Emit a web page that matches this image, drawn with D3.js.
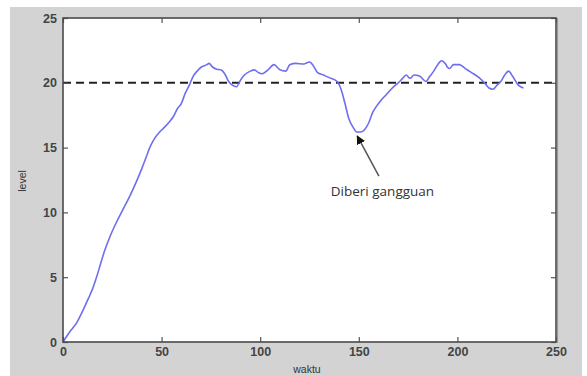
<!DOCTYPE html>
<html>
<head>
<meta charset="utf-8">
<script src="https://cdn.jsdelivr.net/npm/d3@7"></script>
<style>
  html, body { margin: 0; padding: 0; background: #ffffff; }
  svg { display: block; }
</style>
</head>
<body>
<svg id="chart" width="587" height="376"></svg>
<script>
// ---- data ----
const waktu = [0,4,7,10,13,15,17,19,21,24,27,30,34,37,40,42,44,46,49,51,54,56,58,60,62,64,66,68,70,73,74,76,78,80,82,84,86,88,90,92,95,97,99,101,104,107,110,113,115,118,122,125,127,129,132,135,139,141,143,145,147,149,151,153,155,157,159,161,164,167,170,172,174,176,178,181,184,186,188,190,192,194,195,196,198,201,204,207,211,214,216,218,220,222,224,226,228,231,233.5];
const level = [0,0.9,1.5,2.4,3.4,4.1,5.0,6.0,7.0,8.2,9.2,10.1,11.3,12.3,13.4,14.2,15.0,15.6,16.2,16.5,17.0,17.4,18.0,18.4,19.2,19.8,20.5,20.9,21.2,21.4,21.5,21.2,21.05,21.0,20.7,20.1,19.8,19.7,20.2,20.6,20.9,21.0,20.8,20.7,21.0,21.4,21.0,20.9,21.4,21.5,21.45,21.6,21.3,20.8,20.6,20.4,20.1,19.5,18.4,17.2,16.6,16.2,16.2,16.4,16.9,17.7,18.2,18.6,19.1,19.6,20.0,20.3,20.6,20.35,20.6,20.5,20.1,20.5,20.9,21.4,21.7,21.45,21.2,21.1,21.4,21.4,21.1,20.8,20.4,19.95,19.6,19.5,19.8,20.1,20.6,20.9,20.5,19.8,19.6];
const setpoint = 20;
const xTicks = [0,50,100,150,200,250];
const yTicks = [0,5,10,15,20,25];
const xLabel = "waktu";
const yLabel = "level";
const noteText = "Diberi gangguan";
const noteArrowFrom = [160.2, 12.8];
const noteArrowTo = [149.2, 15.9];
const noteTextAt = [162, 11.3];

// ---- layout ----
const svg = d3.select("#chart");
const W = 587, H = 376;
const mLeft = 63, mRight = 556, mTop = 18, mBottom = 342;

svg.append("rect").attr("x", 10).attr("y", 7).attr("width", 572).attr("height", H - 7).attr("fill", "#d3d3d3");

const x = d3.scaleLinear().domain([0, 250]).range([mLeft, mRight]);
const y = d3.scaleLinear().domain([0, 25]).range([mBottom, mTop]);

svg.append("rect").attr("x", mLeft).attr("y", mTop).attr("width", mRight - mLeft).attr("height", mBottom - mTop).attr("fill", "#ffffff");

const defs = svg.append("defs");
defs.append("clipPath").attr("id", "clip").append("rect")
  .attr("x", mLeft).attr("y", mTop).attr("width", mRight - mLeft).attr("height", mBottom - mTop);

// setpoint dashed line
svg.append("line")
  .attr("x1", x(0)).attr("x2", x(250)).attr("y1", y(setpoint)).attr("y2", y(setpoint))
  .attr("stroke", "#222").attr("stroke-width", 2).attr("stroke-dasharray", "8,5");

// response line
const pts = waktu.map((t, i) => [t, level[i]]);
svg.append("path").datum(pts)
  .attr("clip-path", "url(#clip)")
  .attr("d", d3.line().x(d => x(d[0])).y(d => y(d[1])).curve(d3.curveMonotoneX))
  .attr("fill", "none").attr("stroke", "#6e6ef0").attr("stroke-width", 1.6);

// axes
const tickFont = "Liberation Sans, Arial, sans-serif";
const gx = svg.append("g").attr("transform", `translate(0,${mBottom})`)
  .call(d3.axisBottom(x).tickValues(xTicks).tickSize(-5).tickPadding(5).tickSizeOuter(0));
const gxt = svg.append("g").attr("transform", `translate(0,${mTop})`)
  .call(d3.axisTop(x).tickValues(xTicks).tickSize(-5).tickFormat("").tickSizeOuter(0));
const gy = svg.append("g").attr("transform", `translate(${mLeft},0)`)
  .call(d3.axisLeft(y).tickValues(yTicks).tickSize(-5).tickPadding(6).tickSizeOuter(0));
const gyr = svg.append("g").attr("transform", `translate(${mRight},0)`)
  .call(d3.axisRight(y).tickValues(yTicks).tickSize(-5).tickFormat("").tickSizeOuter(0));
[gx, gxt, gy, gyr].forEach(g => {
  g.select(".domain").remove();
  g.selectAll(".tick line").attr("stroke", "#555").attr("stroke-width", 1.2);
  g.selectAll("text").attr("font-family", tickFont).attr("font-size", 12.5)
    .attr("font-weight", "bold").attr("fill", "#444");
});

// frame
svg.append("rect").attr("x", mLeft).attr("y", mTop).attr("width", mRight - mLeft).attr("height", mBottom - mTop)
  .attr("fill", "none").attr("stroke", "#4a4a4a").attr("stroke-width", 1.6);
svg.append("line").attr("x1", mRight + 1.5).attr("x2", mRight + 1.5).attr("y1", mTop).attr("y2", mBottom + 1)
  .attr("stroke", "#9a9a9a").attr("stroke-width", 1.2);

// axis labels
svg.append("text").attr("x", 307).attr("y", 373).attr("text-anchor", "middle")
  .attr("font-family", tickFont).attr("font-size", 10.5).attr("fill", "#333").text(xLabel);
svg.append("text").attr("transform", "translate(26,181) rotate(-90)").attr("text-anchor", "middle")
  .attr("font-family", tickFont).attr("font-size", 10.5).attr("fill", "#333").text(yLabel);

// annotation
defs.append("marker").attr("id", "arrowhead").attr("viewBox", "0 0 10 10")
  .attr("refX", 9).attr("refY", 5).attr("markerWidth", 9).attr("markerHeight", 9)
  .attr("markerUnits", "userSpaceOnUse").attr("orient", "auto")
  .append("path").attr("d", "M0,0 L10,5 L0,10 Z").attr("fill", "#111");
svg.append("line")
  .attr("x1", x(noteArrowFrom[0])).attr("y1", y(noteArrowFrom[1]))
  .attr("x2", x(noteArrowTo[0])).attr("y2", y(noteArrowTo[1]))
  .attr("stroke", "#555").attr("stroke-width", 1.5).attr("marker-end", "url(#arrowhead)");
svg.append("text").attr("x", x(noteTextAt[0])).attr("y", y(noteTextAt[1])).attr("text-anchor", "middle")
  .attr("font-family", "Open Sans, sans-serif").attr("font-size", 13.5).attr("fill", "#333").text(noteText);
</script>
</body>
</html>
